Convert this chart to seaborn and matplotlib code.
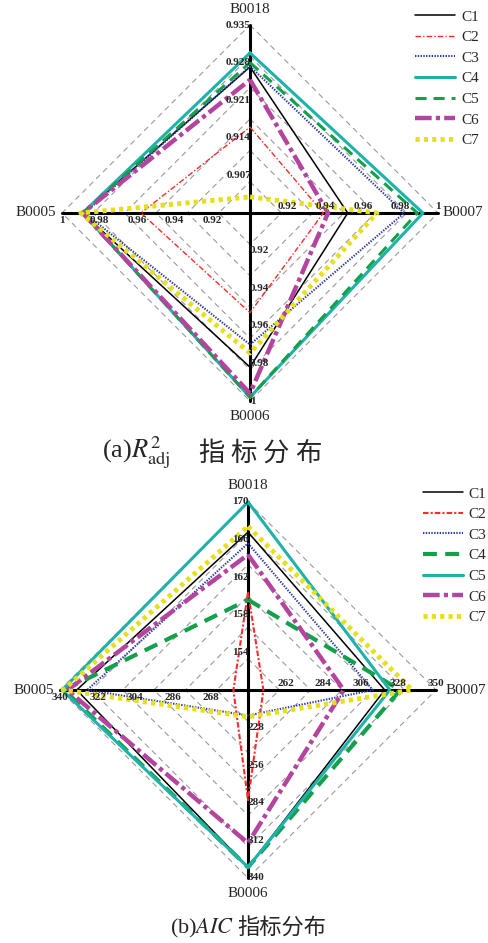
import numpy as np
import pandas as pd
import matplotlib
matplotlib.use("Agg")
import matplotlib.pyplot as plt
import seaborn as sns

# ---- data -------------------------------------------------------------
series = ["C1", "C2", "C3", "C4", "C5", "C6", "C7"]
axis_names = ["B0018", "B0007", "B0006", "B0005"]   # up, right, down, left

# (a) adjusted R^2
r2_b0018 = [0.9272, 0.9160, 0.9273, 0.9298, 0.9280, 0.9248, 0.9030]
r2_b0007 = [0.952, 0.939, 0.982, 0.992, 0.989, 0.9415, 0.9675]
r2_b0006 = [0.982, 0.953, 0.970, 0.998, 0.998, 0.996, 0.9745]
r2_b0005 = [0.989, 0.958, 0.988, 0.989, 0.989, 0.989, 0.990]
r2_ranges = [(0.900, 0.935), (0.90, 1.00), (0.90, 1.00), (0.90, 1.00)]
r2_ticks = [["0.907", "0.914", "0.921", "0.928", "0.935"],
            ["0.92", "0.94", "0.96", "0.98", "1"],
            ["0.92", "0.94", "0.96", "0.98", "1"],
            ["0.92", "0.94", "0.96", "0.98", "1"]]

# (b) AIC
aic_b0018 = [166.8, 160.4, 165.6, 159.6, 170.0, 164.4, 167.4]
aic_b0007 = [320.0, 249.0, 313.0, 329.0, 323.0, 296.0, 336.0]
aic_b0006 = [332.0, 282.0, 219.0, 332.0, 332.0, 314.0, 220.0]
aic_b0005 = [332.0, 257.0, 327.0, 338.0, 339.0, 336.5, 338.5]
aic_ranges = [(150, 170), (240, 350), (200, 340), (250, 340)]
aic_ticks = [["154", "158", "162", "166", "170"],
             ["262", "284", "306", "328", "350"],
             ["228", "256", "284", "312", "340"],
             ["268", "286", "304", "322", "340"]]

# colour, width, linestyle
styles_a = [("#000000", 1.1, "-"),
            ("#ff2a2a", 1.0, (0, (4, 1.5, 1, 1.5))),
            ("#2b3aa8", 1.5, (0, (1, 1))),
            ("#1fb2aa", 2.2, "-"),
            ("#12a14a", 2.2, (0, (8, 5))),
            ("#b4449e", 3.2, (0, (12, 3, 3, 3))),
            ("#e6e01c", 3.5, (0, (3, 3)))]
styles_b = [("#000000", 1.1, "-"),
            ("#ff2a2a", 1.5, (0, (4, 1.5, 1.5, 1.5))),
            ("#2b3aa8", 1.5, (0, (1, 1))),
            ("#12a14a", 3.0, (0, (10, 6))),
            ("#1fb2aa", 2.2, "-"),
            ("#b4449e", 3.2, (0, (12, 3, 3, 3))),
            ("#e6e01c", 3.5, (0, (3, 3)))]

directions = [(0, 1), (1, 0), (0, -1), (-1, 0)]

sns.set_theme(style="white")
plt.rcParams["font.family"] = ["Liberation Serif", "Noto Sans CJK SC"]
plt.rcParams["mathtext.fontset"] = "stix"
plt.rcParams["lines.scale_dashes"] = False


def draw_radar(ax, columns, ranges, ticks, styles):
    # dashed grid diamonds
    for k in range(1, 7):
        r = k / 6
        ax.plot([0, r, 0, -r, 0], [r, 0, -r, 0, r], color="#9a9a9a", lw=0.8,
                ls=(0, (4, 3)), zorder=1)
    # axes
    ax.plot([-1, 1], [0, 0], color="black", lw=2.2, zorder=2)
    ax.plot([0, 0], [-1, 1], color="black", lw=2.2, zorder=2)

    # tick labels
    for d, (dx, dy) in enumerate(directions):
        for k, lab in enumerate(ticks[d]):
            r = (k + 1) / 5
            if d == 0:
                ax.text(0.005, r, lab, ha="right", va="center", fontsize=8,
                        fontweight="bold", zorder=4)
            elif d == 1:
                ax.text(r, 0.012, lab, ha="center", va="bottom", fontsize=8,
                        fontweight="bold", zorder=4)
            elif d == 2:
                ax.text(0.0, -r, lab, ha="left", va="center", fontsize=8,
                        fontweight="bold", zorder=4)
            else:
                ax.text(-r, -0.015, lab, ha="center", va="top", fontsize=8,
                        fontweight="bold", zorder=4)

    # series polygons
    for i, name in enumerate(series):
        xs, ys = [], []
        for d, (dx, dy) in enumerate(directions):
            lo, hi = ranges[d]
            r = (columns[d][i] - lo) / (hi - lo)
            xs.append(r * dx)
            ys.append(r * dy)
        xs.append(xs[0])
        ys.append(ys[0])
        df = pd.DataFrame({"x": xs, "y": ys})
        color, lw, ls = styles[i]
        sns.lineplot(data=df, x="x", y="y", sort=False, estimator=None, ax=ax,
                     color=color, lw=lw, linestyle=ls, label=name, zorder=3)
    ax.axis("off")


W, H = 488, 943
R = 188.0
fig = plt.figure(figsize=(W / 100, H / 100), dpi=100)

# top chart: centre at (250, 213) px
ax1 = fig.add_axes([0, (H - 470) / H, 1, 470 / H])
ax1.set_xlim(-250 / R, 238 / R)
ax1.set_ylim((213 - 470) / R, 213 / R)
draw_radar(ax1, [r2_b0018, r2_b0007, r2_b0006, r2_b0005], r2_ranges, r2_ticks, styles_a)

# bottom chart: centre at (248, 690) px
ax2 = fig.add_axes([0, 0, 1, 470 / H])
ax2.set_xlim(-248 / R, 240 / R)
ax2.set_ylim(-253 / R, 217 / R)
draw_radar(ax2, [aic_b0018, aic_b0007, aic_b0006, aic_b0005], aic_ranges, aic_ticks, styles_b)

# axis names
for ax, ytop, ybot, xr in [(ax1, 1.08, -1.085, 1.025), (ax2, 1.09, -1.08, 1.05)]:
    ax.text(0, ytop, axis_names[0], ha="center", va="center", fontsize=11)
    ax.text(xr, 0, axis_names[1], ha="left", va="center", fontsize=11)
    ax.text(0, ybot, axis_names[2], ha="center", va="center", fontsize=11)
    ax.text(-1.03, 0, axis_names[3], ha="right", va="center", fontsize=11)

# legends
leg_kw = dict(loc="upper left", frameon=False, fontsize=11, handlelength=2.6,
              handletextpad=0.4, labelspacing=0.45, borderpad=0, borderaxespad=0)
ax1.legend(bbox_to_anchor=(0.878, 1.08), bbox_transform=ax1.transData, **leg_kw)
ax2.legend(bbox_to_anchor=(0.931, 1.08), bbox_transform=ax2.transData, **leg_kw)

# captions
ax1.text(-0.785, -1.277, "(a)$R^2_{\\mathrm{adj}}$", ha="left", va="center", fontsize=19)
for j, ch in enumerate("指标分布"):
    ax1.text(-0.205 + j * 0.172, -1.277, ch, ha="center", va="center", fontsize=19,
             family="Noto Sans CJK SC")
ax2.text(-0.415, -1.266, "(b)$AIC$", ha="left", va="center", fontsize=16)
ax2.text(-0.055, -1.266, "指标分布", ha="left", va="center", fontsize=16,
         family="Noto Sans CJK SC")

fig.savefig("out.png", dpi=100)
